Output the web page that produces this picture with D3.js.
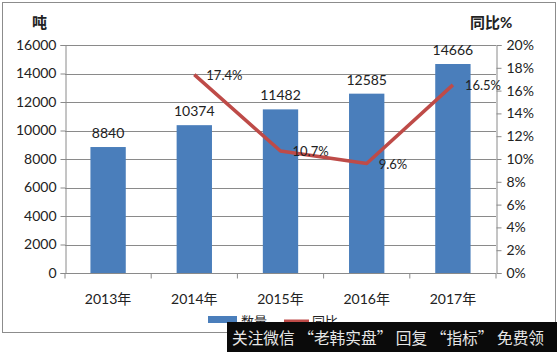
<!DOCTYPE html>
<html>
<head>
<meta charset="utf-8">
<script src="https://cdn.jsdelivr.net/npm/d3@7"></script>
<style>
  body { margin: 0; background: #fff; }
  svg { display: block; }
  text { font-family: Lato, "Noto Sans CJK SC", sans-serif; fill: #222; }
</style>
</head>
<body>
<div id="chart"></div>
<script>
const years = ["2013年", "2014年", "2015年", "2016年", "2017年"];
const amounts = [8840, 10374, 11482, 12585, 14666];
// growth only from 2014 onward
const growthYears = ["2014年", "2015年", "2016年", "2017年"];
const growth = [17.4, 10.7, 9.6, 16.5];
const leftTicks = [0, 2000, 4000, 6000, 8000, 10000, 12000, 14000, 16000];
const rightTicks = [0, 2, 4, 6, 8, 10, 12, 14, 16, 18, 20];

const width = 557, height = 352;
const margin = { top: 45, right: 61, bottom: 79, left: 65 };

const svg = d3.select("#chart").append("svg")
  .attr("width", width)
  .attr("height", height);

// outer frame
svg.append("rect")
  .attr("x", 2.5).attr("y", 2.5)
  .attr("width", 553).attr("height", 330)
  .attr("fill", "#fff")
  .attr("stroke", "#8c8c8c");

const x = d3.scaleBand()
  .domain(years)
  .range([margin.left, width - margin.right])
  .paddingInner(0.59)
  .paddingOuter(0.295);

const yLeft = d3.scaleLinear()
  .domain([0, 16000])
  .range([height - margin.bottom, margin.top]);

const yRight = d3.scaleLinear()
  .domain([0, 20])
  .range([height - margin.bottom, margin.top]);

// gridlines
svg.append("g")
  .selectAll("line")
  .data(leftTicks.slice(1))
  .join("line")
  .attr("x1", margin.left)
  .attr("x2", width - margin.right)
  .attr("y1", d => Math.round(yLeft(d)) + 0.5)
  .attr("y2", d => Math.round(yLeft(d)) + 0.5)
  .attr("stroke", "#8a8a8a");

// left axis
const leftAxis = svg.append("g")
  .attr("transform", `translate(${margin.left + 0.5},0)`)
  .call(d3.axisLeft(yLeft).tickValues(leftTicks).tickSize(5).tickPadding(4)
    .tickFormat(d => String(d)));
leftAxis.selectAll("text").style("font-size", "14px");

// right axis
const rightAxis = svg.append("g")
  .attr("transform", `translate(${width - margin.right + 0.5},0)`)
  .call(d3.axisRight(yRight).tickValues(rightTicks).tickSize(5).tickPadding(5)
    .tickFormat(d => d + "%"));
rightAxis.selectAll("text").style("font-size", "14px");

// bottom axis, ticks between categories
const step = x.step();
const xAxis = svg.append("g")
  .attr("transform", `translate(0,${height - margin.bottom + 0.5})`);
xAxis.append("line")
  .attr("x1", margin.left).attr("x2", width - margin.right)
  .attr("stroke", "#8a8a8a");
xAxis.selectAll(".tk")
  .data(d3.range(years.length + 1))
  .join("line")
  .attr("x1", i => margin.left + i * step)
  .attr("x2", i => margin.left + i * step)
  .attr("y1", 0).attr("y2", 5)
  .attr("stroke", "#8a8a8a");
xAxis.selectAll("text")
  .data(years)
  .join("text")
  .attr("x", d => x(d) + x.bandwidth() / 2)
  .attr("y", 30)
  .attr("text-anchor", "middle")
  .style("font-size", "14px")
  .text(d => d);

[leftAxis, rightAxis].forEach(a => {
  a.select(".domain").attr("stroke", "#8a8a8a");
  a.selectAll(".tick line").attr("stroke", "#8a8a8a");
  a.selectAll("text").attr("fill", "#222");
});

// bars
svg.append("g")
  .selectAll("rect")
  .data(years)
  .join("rect")
  .attr("x", d => x(d))
  .attr("y", (d, i) => yLeft(amounts[i]))
  .attr("width", x.bandwidth())
  .attr("height", (d, i) => yLeft(0) - yLeft(amounts[i]))
  .attr("fill", "#4a7ebb");

svg.append("g")
  .selectAll("text")
  .data(years)
  .join("text")
  .attr("x", d => x(d) + x.bandwidth() / 2)
  .attr("y", (d, i) => yLeft(amounts[i]) - 9)
  .attr("text-anchor", "middle")
  .style("font-size", "14px")
  .text((d, i) => amounts[i]);

// growth line
const line = d3.line()
  .x((d, i) => x(growthYears[i]) + x.bandwidth() / 2)
  .y(d => yRight(d));

svg.append("path")
  .datum(growth)
  .attr("d", line)
  .attr("fill", "none")
  .attr("stroke", "#be4b48")
  .attr("stroke-width", 3.5)
  .attr("stroke-linejoin", "round");

svg.append("g")
  .selectAll("text")
  .data(growth)
  .join("text")
  .attr("x", (d, i) => x(growthYears[i]) + x.bandwidth() / 2 + 12)
  .attr("y", d => yRight(d) + 5)
  .style("font-size", "13px")
  .text(d => d.toFixed(1) + "%");

// axis titles
svg.append("text")
  .attr("x", 32).attr("y", 28)
  .style("font-size", "15px").style("font-weight", "bold")
  .text("吨");
svg.append("text")
  .attr("x", 470).attr("y", 28)
  .style("font-size", "15px").style("font-weight", "bold")
  .text("同比%");

// legend (partly hidden under the watermark band, as in the source)
const legend = svg.append("g");
legend.append("rect")
  .attr("x", 208).attr("y", 316)
  .attr("width", 29).attr("height", 7)
  .attr("fill", "#4a7ebb");
legend.append("text")
  .attr("x", 241).attr("y", 326)
  .style("font-size", "13px")
  .text("数量");
legend.append("line")
  .attr("x1", 284).attr("x2", 309)
  .attr("y1", 321).attr("y2", 321)
  .attr("stroke", "#be4b48").attr("stroke-width", 3);
legend.append("text")
  .attr("x", 312).attr("y", 326)
  .style("font-size", "13px")
  .text("同比");

// watermark band
svg.append("rect")
  .attr("x", 227).attr("y", 322)
  .attr("width", width - 227).attr("height", height - 322)
  .attr("fill", "#0a0a0a");
svg.append("text")
  .attr("x", 232).attr("y", 344)
  .attr("textLength", 312)
  .attr("lengthAdjust", "spacingAndGlyphs")
  .style("font-size", "16px")
  .style("font-family", "'Noto Sans CJK SC', sans-serif")
  .style("fill", "#e6e6e6")
  .text("关注微信 “老韩实盘” 回复 “指标” 免费领");
</script>
</body>
</html>
